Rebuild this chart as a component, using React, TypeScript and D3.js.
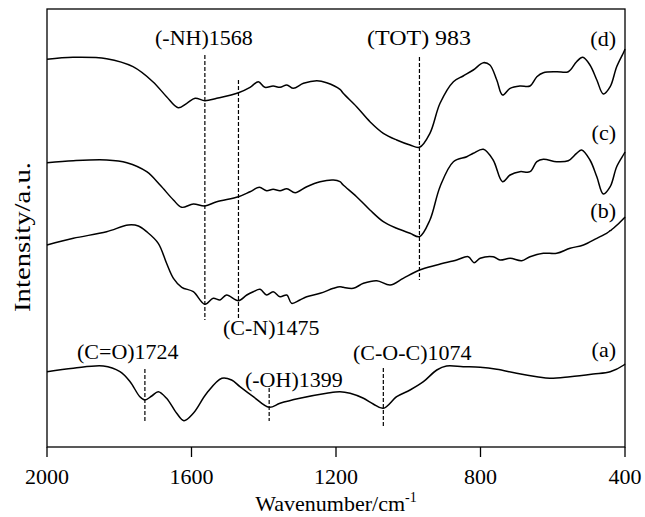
import React from "react";
import * as d3 from "d3";

const W = 645;
const H = 517;
const margin = { left: 47, right: 20, top: 9, bottom: 70 };

// Spectra: [wavenumber (cm-1), intensity (a.u., offset)]
const curveA: [number, number][] = [
  [2000, 75.3], [1927, 78.7], [1844, 81], [1798, 75.3], [1770, 65.3], [1743, 50.3], [1729, 47],
  [1710, 51], [1692, 55.3], [1669, 48.7], [1641, 33.7], [1621, 26.3], [1595, 33.7], [1558, 53.7],
  [1516, 68.7], [1489, 67], [1466, 60.3], [1429, 50.3], [1385, 39.7], [1355, 43.7], [1300, 48.7],
  [1226, 53.7], [1189, 55.3], [1161, 53.7], [1124, 48.7], [1097, 43], [1069, 38.7], [1032, 50.3],
  [995, 57], [958, 65.3], [921, 77], [894, 81], [848, 80.3], [801, 79.7], [755, 77.7], [700, 73.7],
  [644, 70.3], [608, 68.7], [552, 70.3], [488, 73], [441, 75.3], [403, 82], [400, 83],
];
const curveB: [number, number][] = [
  [2000, 202], [1927, 208.7], [1835, 215.3], [1775, 222], [1747, 221], [1724, 215.3], [1692, 203.7],
  [1669, 183.7], [1650, 168.7], [1627, 159.7], [1595, 155.3], [1563, 142.7], [1540, 148.7],
  [1521, 147], [1503, 152], [1470, 146.3], [1447, 152], [1429, 155.3], [1410, 157.7], [1392, 152],
  [1374, 155.3], [1355, 150.3], [1336, 152], [1323, 143.7], [1300, 147], [1281, 150.3], [1244, 153.7],
  [1207, 158.7], [1189, 160.3], [1180, 159.7], [1152, 158.7], [1124, 163.7], [1087, 166.3],
  [1050, 162], [1014, 168.7], [969, 177], [921, 182], [866, 187], [834, 190.3], [818, 184.3],
  [801, 188.7], [765, 190.3], [746, 187], [718, 188.7], [686, 186.3], [663, 190.3], [626, 193.7],
  [589, 193.7], [552, 198.7], [515, 202], [478, 208.7], [451, 213.7], [441, 216.3], [432, 218.7],
  [403, 228.7], [400, 230],
];
const curveC: [number, number][] = [
  [2000, 284.3], [1927, 286.3], [1835, 287], [1779, 284.3], [1724, 275.3], [1687, 262], [1650, 247],
  [1627, 239.7], [1595, 243], [1563, 241], [1530, 245.3], [1470, 250.3], [1438, 255.3], [1412, 259.7],
  [1392, 256.3], [1374, 257.7], [1355, 256.3], [1336, 258.3], [1313, 254.3], [1281, 260.3],
  [1244, 265.3], [1207, 267], [1189, 265.3], [1180, 262], [1143, 250.3], [1106, 237], [1069, 225.3],
  [1032, 218.7], [995, 213.7], [969, 210.3], [940, 227], [912, 260.3], [875, 285.3], [838, 290.3],
  [820, 293.7], [792, 297.7], [765, 287], [739, 265.3], [718, 272], [691, 275.3], [663, 275.3],
  [644, 285.3], [626, 287.7], [589, 285.3], [557, 286.3], [534, 293.7], [520, 297], [497, 287],
  [478, 270.3], [460, 253], [441, 260.3], [423, 280.3], [403, 293], [400, 295],
];
const curveD: [number, number][] = [
  [2000, 387.7], [1928, 389.7], [1835, 388.3], [1762, 380.3], [1707, 365.3], [1669, 350.3],
  [1637, 339.3], [1613, 343.7], [1590, 348.7], [1563, 346.3], [1530, 348.7], [1470, 354.3],
  [1438, 359.7], [1415, 365.3], [1397, 359.7], [1374, 361], [1355, 359.7], [1336, 362], [1318, 358.7],
  [1290, 363.7], [1253, 366.3], [1226, 364.3], [1189, 357.7], [1180, 353.7], [1143, 340.3],
  [1106, 325.3], [1069, 313.7], [1032, 307], [995, 302], [969, 299.7], [940, 313.7], [912, 343.7],
  [875, 365.3], [848, 371], [820, 377], [792, 384.3], [774, 382], [755, 367], [739, 352], [718, 358.7],
  [691, 361], [663, 361], [644, 370.3], [626, 374.3], [589, 375.3], [557, 375.3], [534, 385.3],
  [517, 389.7], [497, 382], [478, 367], [460, 353], [441, 360.3], [423, 380.3], [403, 395.3], [400, 398],
];

const series = [curveA, curveB, curveC, curveD];
const seriesLabels = ["(a)", "(b)", "(c)", "(d)"];
const seriesLabelY = [90, 229, 307, 401];

const xTicks = [2000, 1600, 1200, 800, 400];

// Dashed marker lines: wavenumber, intensity from / to
const markerWave = [1563, 1470, 969, 1729, 1385, 1069];
const markerTop = [392, 367, 390, 78, 59, 79];
const markerBottom = [127, 127, 167, 26, 26, 21];

// Annotations: text, start wavenumber, baseline intensity
const annText = ["(-NH)1568", "(TOT) 983", "(C-N)1475", "(C=O)1724", "(-OH)1399", "(C-O-C)1074"];
const annWave = [1701, 1114, 1513, 1917, 1452, 1153];
const annY = [402, 402, 112, 88, 60, 87];

const FONT = "'Liberation Serif', 'Times New Roman', serif";

export default function App() {
  const x = d3.scaleLinear().domain([2000, 400]).range([margin.left, W - margin.right]);
  const y = d3.scaleLinear().domain([0, 438]).range([H - margin.bottom, margin.top]);
  const line = d3
    .line<[number, number]>()
    .x((d) => x(d[0]))
    .y((d) => y(d[1]))
    .curve(d3.curveCatmullRom.alpha(0.5));

  const x0 = margin.left;
  const x1 = W - margin.right;
  const y0 = H - margin.bottom;
  const y1 = margin.top;

  return (
    <svg
      width={W}
      height={H}
      style={{ position: "absolute", left: 0, top: 0, background: "#fff" }}
      fontFamily={FONT}
    >
      <rect x={0} y={0} width={W} height={H} fill="#fff" />
      {/* frame */}
      <rect x={x0} y={y1} width={x1 - x0} height={y0 - y1} fill="none" stroke="#000" strokeWidth={1.3} />
      {/* x ticks */}
      {xTicks.map((t) => (
        <g key={t}>
          <line x1={x(t)} x2={x(t)} y1={y0} y2={y0 + 10} stroke="#000" strokeWidth={1.3} />
          <text x={x(t)} y={484} textAnchor="middle" fontSize={22} fill="#000">
            {t}
          </text>
        </g>
      ))}
      <text x={(x0 + x1) / 2} y={511} textAnchor="middle" fontSize={22} fill="#000">
        Wavenumber/cm<tspan fontSize={14} dy={-9}>-1</tspan>
      </text>
      <text
        transform={`translate(30,${237}) rotate(-90)`}
        textAnchor="middle"
        fontSize={22.5}
        textLength={150}
        lengthAdjust="spacingAndGlyphs"
        fill="#000"
      >
        Intensity/a.u.
      </text>
      {/* marker lines */}
      {markerWave.map((w, i) => (
        <line
          key={i}
          x1={x(w)}
          x2={x(w)}
          y1={y(markerTop[i])}
          y2={y(markerBottom[i])}
          stroke="#000"
          strokeWidth={1.2}
          strokeDasharray="4,2"
        />
      ))}
      {/* spectra */}
      {series.map((s, i) => (
        <path key={i} d={line(s) || ""} fill="none" stroke="#000" strokeWidth={1.5} />
      ))}
      {/* series labels */}
      {seriesLabels.map((l, i) => (
        <text key={l} x={616} y={y(seriesLabelY[i])} textAnchor="end" fontSize={22} fill="#000">
          {l}
        </text>
      ))}
      {/* annotations */}
      {annText.map((t, i) => (
        <text
          key={t}
          x={x(annWave[i])}
          y={y(annY[i])}
          fontSize={22}
          fill="#000"
          {...(t === "(TOT) 983" ? { textLength: 104, lengthAdjust: "spacingAndGlyphs" } : {})}
        >
          {t}
        </text>
      ))}
    </svg>
  );
}
